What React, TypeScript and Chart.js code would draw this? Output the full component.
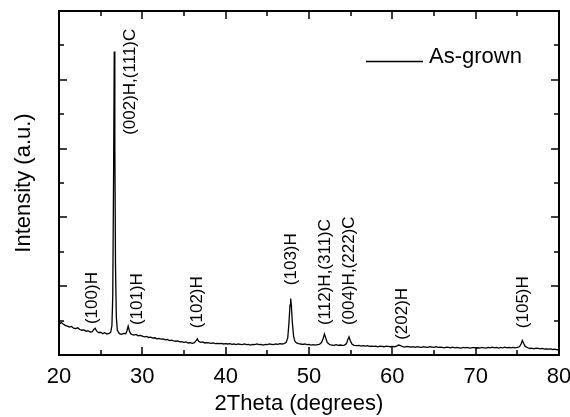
import { useEffect, useRef } from "react";
import { Chart, registerables } from "chart.js";

Chart.register(...registerables);

const twoTheta = [
  20.0, 20.25, 20.5, 20.75,
  21.0, 21.25, 21.5, 21.75,
  22.0, 22.25, 22.5, 22.75,
  23.0, 23.25, 23.5, 23.75,
  24.0, 24.2, 24.35, 24.5, 24.75,
  25.0, 25.25, 25.5, 25.75,
  26.0, 26.2, 26.35, 26.45, 26.55, 26.63, 26.7, 26.78, 26.88,
  27.0, 27.25, 27.5, 27.75,
  28.0, 28.15, 28.3, 28.45, 28.6, 28.75,
  29.0, 29.25, 29.5, 29.75,
  30.0, 30.25, 30.5, 30.75,
  31.0, 31.25, 31.5, 31.75,
  32.0, 32.25, 32.5, 32.75,
  33.0, 33.25, 33.5, 33.75,
  34.0, 34.25, 34.5, 34.75,
  35.0, 35.25, 35.5, 35.75,
  36.0, 36.25, 36.45, 36.6, 36.75,
  37.0, 37.25, 37.5, 37.75,
  38.0, 38.25, 38.5, 38.75,
  39.0, 39.25, 39.5, 39.75,
  40.0, 40.25, 40.5, 40.75,
  41.0, 41.25, 41.5, 41.75,
  42.0, 42.25, 42.5, 42.75,
  43.0, 43.25, 43.5, 43.75,
  44.0, 44.25, 44.5, 44.75,
  45.0, 45.25, 45.5, 45.75,
  46.0, 46.25, 46.5, 46.75,
  47.0, 47.25, 47.45, 47.6, 47.72, 47.8, 47.88, 48.0, 48.15, 48.3, 48.5, 48.75,
  49.0, 49.25, 49.5, 49.75,
  50.0, 50.25, 50.5, 50.75,
  51.0, 51.25, 51.5, 51.7, 51.85, 52.0, 52.2, 52.5, 52.75,
  53.0, 53.25, 53.5, 53.75,
  54.0, 54.25, 54.5, 54.65, 54.8, 54.95, 55.15, 55.4, 55.75,
  56.0, 56.25, 56.5, 56.75,
  57.0, 57.25, 57.5, 57.75,
  58.0, 58.25, 58.5, 58.75,
  59.0, 59.25, 59.5, 59.75,
  60.0, 60.25, 60.5, 60.75, 61.0, 61.25, 61.5, 61.75,
  62.0, 62.25, 62.5, 62.75,
  63.0, 63.25, 63.5, 63.75,
  64.0, 64.25, 64.5, 64.75,
  65.0, 65.25, 65.5, 65.75,
  66.0, 66.25, 66.5, 66.75,
  67.0, 67.25, 67.5, 67.75,
  68.0, 68.25, 68.5, 68.75,
  69.0, 69.25, 69.5, 69.75,
  70.0, 70.25, 70.5, 70.75,
  71.0, 71.25, 71.5, 71.75,
  72.0, 72.25, 72.5, 72.75,
  73.0, 73.25, 73.5, 73.75,
  74.0, 74.25, 74.5, 74.75,
  75.0, 75.25, 75.45, 75.6, 75.75, 75.95, 76.25, 76.5, 76.75,
  77.0, 77.25, 77.5, 77.75,
  78.0, 78.25, 78.5, 78.75,
  79.0, 79.25, 79.5, 79.75,
  80.0,
];

const intensity = [
  0.88, 0.95, 0.90, 0.86,
  0.84, 0.81, 0.83, 0.78,
  0.77, 0.79, 0.74, 0.72,
  0.73, 0.69, 0.70, 0.67,
  0.68, 0.75, 0.78, 0.70, 0.65,
  0.66, 0.62, 0.65, 0.61,
  0.63, 0.66, 0.85, 1.7, 5.2, 8.82, 6.2, 2.6, 1.1,
  0.72, 0.62, 0.60, 0.63,
  0.62, 0.70, 0.84, 0.70, 0.62, 0.60,
  0.58, 0.60, 0.56, 0.57,
  0.55, 0.53, 0.54, 0.51,
  0.52, 0.49, 0.50, 0.47,
  0.48, 0.46, 0.47, 0.44,
  0.45, 0.42, 0.43, 0.41,
  0.40, 0.41, 0.38, 0.39,
  0.37, 0.38, 0.35, 0.36,
  0.34, 0.36, 0.42, 0.47, 0.40,
  0.37, 0.38, 0.35, 0.36,
  0.35, 0.34, 0.35, 0.33,
  0.34, 0.33, 0.34, 0.32,
  0.33, 0.32, 0.33, 0.31,
  0.32, 0.30, 0.32, 0.31,
  0.30, 0.32, 0.30, 0.31,
  0.29, 0.31, 0.30, 0.32,
  0.30, 0.31, 0.29, 0.31,
  0.30, 0.32, 0.31, 0.30,
  0.32, 0.31, 0.33, 0.32,
  0.33, 0.36, 0.50, 0.95, 1.45, 1.64, 1.45, 0.95, 0.55, 0.40, 0.35, 0.33,
  0.32, 0.31, 0.32, 0.30,
  0.31, 0.29, 0.30, 0.29,
  0.30, 0.31, 0.36, 0.48, 0.61, 0.50, 0.36, 0.30, 0.29,
  0.28, 0.30, 0.28, 0.29,
  0.28, 0.29, 0.33, 0.44, 0.53, 0.42, 0.32, 0.28, 0.27,
  0.28, 0.26, 0.27, 0.26,
  0.27, 0.25, 0.26, 0.25,
  0.26, 0.24, 0.26, 0.25,
  0.24, 0.26, 0.25, 0.24,
  0.25, 0.24, 0.26, 0.29, 0.27, 0.24, 0.23, 0.25,
  0.24, 0.23, 0.24, 0.22,
  0.24, 0.23, 0.22, 0.24,
  0.23, 0.22, 0.24, 0.23,
  0.22, 0.24, 0.22, 0.23,
  0.22, 0.21, 0.23, 0.22,
  0.21, 0.23, 0.21, 0.22,
  0.21, 0.20, 0.22, 0.21,
  0.22, 0.20, 0.21, 0.22,
  0.20, 0.21, 0.20, 0.22,
  0.21, 0.20, 0.22, 0.21,
  0.23, 0.21, 0.22, 0.20,
  0.22, 0.21, 0.23, 0.21,
  0.22, 0.21, 0.22, 0.21,
  0.22, 0.24, 0.32, 0.42, 0.34, 0.25, 0.21, 0.19, 0.20,
  0.18, 0.20, 0.19, 0.18,
  0.19, 0.17, 0.18, 0.17,
  0.18, 0.16, 0.17, 0.15,
  0.16,
];

const peakLabels = [
  "(100)H",
  "(002)H,(111)C",
  "(101)H",
  "(102)H",
  "(103)H",
  "(112)H,(311)C",
  "(004)H,(222)C",
  "(202)H",
  "(105)H",
];
const peakLabelX = [23.95, 28.6, 29.4, 36.6, 47.9, 51.9, 54.8, 61.2, 75.7];
const peakLabelY = [0.9, 6.4, 0.87, 0.78, 2.03, 0.87, 0.87, 0.44, 0.78];

const seriesName = "As-grown";
const xTitle = "2Theta (degrees)";
const yTitle = "Intensity (a.u.)";

const FONT = "'Liberation Sans', Arial, Helvetica, sans-serif";

const frameTicksPlugin = {
  id: "frameTicks",
  afterDraw(chart: any) {
    const { ctx, chartArea: a, scales } = chart;
    const xs = scales.x;
    const ys = scales.y;
    ctx.save();
    ctx.strokeStyle = "#000";
    ctx.lineWidth = 1.5;
    ctx.beginPath();
    xs.ticks.forEach((t: any) => {
      const px = Math.round(xs.getPixelForValue(t.value));
      const len = t.value % 10 === 0 ? 8 : 5;
      ctx.moveTo(px, a.bottom);
      ctx.lineTo(px, a.bottom - len);
      ctx.moveTo(px, a.top);
      ctx.lineTo(px, a.top + len);
    });
    ys.ticks.forEach((t: any) => {
      const py = Math.round(ys.getPixelForValue(t.value));
      const len = t.value % 2 === 0 ? 8 : 5;
      ctx.moveTo(a.left, py);
      ctx.lineTo(a.left + len, py);
      ctx.moveTo(a.right, py);
      ctx.lineTo(a.right - len, py);
    });
    ctx.stroke();
    ctx.lineWidth = 2;
    ctx.strokeRect(a.left, a.top, a.right - a.left, a.bottom - a.top);
    ctx.restore();
  },
};

const peakLabelPlugin = {
  id: "peakLabels",
  afterDatasetsDraw(chart: any) {
    const { ctx, scales } = chart;
    ctx.save();
    ctx.fillStyle = "#000";
    ctx.font = `17px ${FONT}`;
    ctx.textAlign = "left";
    ctx.textBaseline = "middle";
    peakLabels.forEach((txt, i) => {
      const px = scales.x.getPixelForValue(peakLabelX[i]);
      const py = scales.y.getPixelForValue(peakLabelY[i]);
      ctx.save();
      ctx.translate(px, py);
      ctx.rotate(-Math.PI / 2);
      ctx.fillText(txt, 0, 0);
      ctx.restore();
    });
    ctx.restore();
  },
};

// Legend (line sample + name) and x-axis title, placed relative to the chart area
const legendTitlePlugin = {
  id: "legendTitle",
  afterDraw(chart: any) {
    const { ctx, chartArea: a } = chart;
    const ds = chart.data.datasets[0];
    ctx.save();
    ctx.strokeStyle = ds.borderColor;
    ctx.lineWidth = 1.5;
    ctx.beginPath();
    ctx.moveTo(a.right - 193, a.top + 50.5);
    ctx.lineTo(a.right - 136, a.top + 50.5);
    ctx.stroke();
    ctx.fillStyle = "#000";
    ctx.font = `22px ${FONT}`;
    ctx.textAlign = "left";
    ctx.textBaseline = "alphabetic";
    ctx.fillText(ds.label, a.right - 130, a.top + 52);
    ctx.textAlign = "center";
    ctx.textBaseline = "middle";
    ctx.fillText(xTitle, (a.left + a.right) / 2 - 10, a.bottom + 49);
    ctx.restore();
  },
};

export default function App() {
  const ref = useRef<HTMLCanvasElement | null>(null);
  useEffect(() => {
    if (!ref.current) return;
    const points = twoTheta.map((x, i) => ({ x, y: intensity[i] }));
    const chart = new Chart(ref.current, {
      type: "line",
      data: {
        datasets: [
          {
            label: seriesName,
            data: points,
            borderColor: "#000",
            backgroundColor: "#000",
            borderWidth: 1.3,
            pointRadius: 0,
            tension: 0,
            fill: false,
          },
        ],
      },
      options: {
        responsive: false,
        animation: false,
        layout: { padding: { top: 11, right: 11, left: 0, bottom: 0 } },
        plugins: {
          legend: { display: false },
          tooltip: { enabled: false },
        },
        scales: {
          x: {
            type: "linear",
            min: 20,
            max: 80,
            grid: { display: false, drawTicks: false },
            border: { display: false },
            ticks: {
              stepSize: 5,
              autoSkip: false,
              maxRotation: 0,
              padding: 9,
              color: "#000",
              font: { family: FONT, size: 22 },
              callback: (v: any) => (Number(v) % 10 === 0 ? String(v) : ""),
            },
            title: { display: false, text: xTitle },
            afterFit: (s: any) => {
              s.height = 62;
              s.paddingLeft = 0;
              s.paddingRight = 0;
            },
          },
          y: {
            type: "linear",
            min: 0,
            max: 10,
            grid: { display: false, drawTicks: false },
            border: { display: false },
            ticks: { display: false, stepSize: 1 },
            title: {
              display: true,
              text: yTitle,
              color: "#000",
              font: { family: FONT, size: 22 },
              padding: { top: 11, bottom: 0 },
            },
            afterFit: (s: any) => {
              s.width = 59;
              s.paddingTop = 0;
              s.paddingBottom = 0;
            },
          },
        },
      },
      plugins: [frameTicksPlugin, peakLabelPlugin, legendTitlePlugin],
    });
    return () => chart.destroy();
  }, []);
  return (
    <div style={{ position: "fixed", left: 0, top: 0, width: 570, height: 417, background: "#fff" }}>
      <canvas ref={ref} width={570} height={417} style={{ display: "block" }} />
    </div>
  );
}
